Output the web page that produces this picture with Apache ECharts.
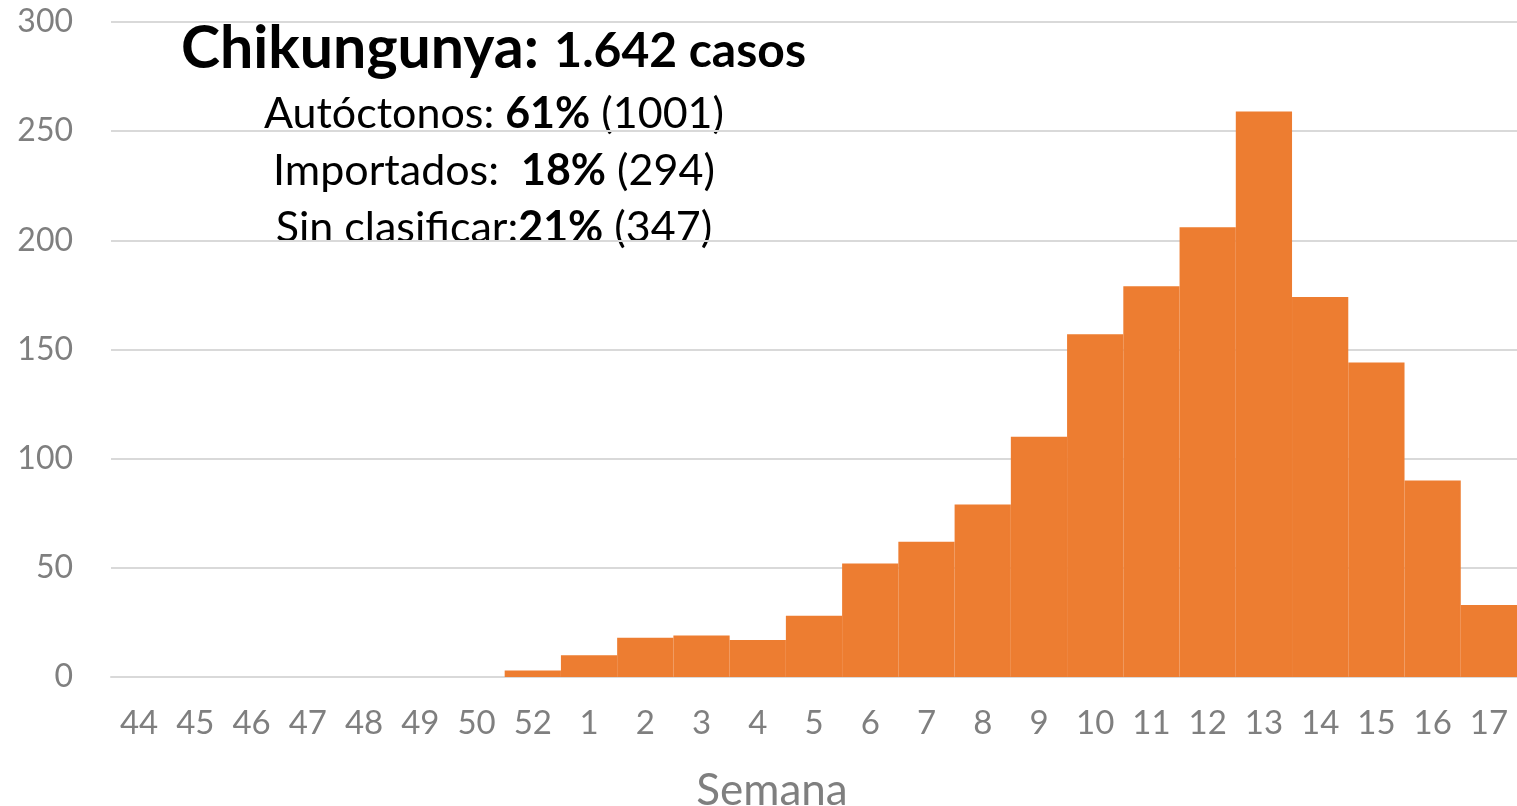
<!DOCTYPE html>
<html>
<head>
<meta charset="utf-8">
<script src="https://cdn.jsdelivr.net/npm/echarts@6/dist/echarts.min.js"></script>
<style>html,body{margin:0;padding:0;background:#fff;overflow:hidden}#c{width:1517px;height:806px}</style>
</head>
<body>
<div id="c"></div>
<script>
var weeks = ['44','45','46','47','48','49','50','52','1','2','3','4','5','6','7','8','9','10','11','12','13','14','15','16','17'];
var cases = [0,0,0,0,0,0,0,3,10,18,19,17,28,52,62,79,110,157,179,206,259,174,144,90,33];
var yTicks = [0,50,100,150,200,250,300];
var titleMain = 'Chikungunya:';
var titleTotal = '1.642 casos';
var breakdown = [
  ['Autóctonos: ', '61%', ' (1001)'],
  ['Importados:  ', '18%', ' (294)'],
  ['Sin clasificar:', '21%', ' (347)']
];

var FONT = 'Lato, "Open Sans", sans-serif';
var chart = echarts.init(document.getElementById('c'), null, {width: 1517, height: 806});
var rich = {
  a: {fontFamily: FONT, fontSize: 43, color: '#000'},
  b: {fontFamily: FONT, fontSize: 43, fontWeight: 'bold', color: '#000'}
};
var graphics = [
  {type: 'text', x: 181, y: 78,
   style: {text: titleMain, fontFamily: FONT, fontSize: 59, fontWeight: 'bold', fill: '#000', textAlign: 'left', textVerticalAlign: 'bottom', verticalAlign: 'bottom'}},
  {type: 'text', x: 806, y: 76,
   style: {text: titleTotal, fontFamily: FONT, fontSize: 48, fontWeight: 'bold', fill: '#000', textAlign: 'right', textVerticalAlign: 'bottom', verticalAlign: 'bottom'}}
];
var ys = [114, 171, 228];
breakdown.forEach(function (b, i) {
  graphics.push({
    type: 'text', x: 494, y: ys[i],
    style: {text: '{a|' + b[0] + '}{b|' + b[1] + '}{a|' + b[2] + '}', rich: rich,
            textAlign: 'center', align: 'center', textVerticalAlign: 'middle', verticalAlign: 'middle'}
  });
});

var barData = cases.map(function (v) {
  return v === 0 ? {value: v, itemStyle: {borderWidth: 0}} : v;
});

chart.setOption({
  animation: false,
  grid: {left: 111, right: 0, top: 22, height: 655, containLabel: false, outerBoundsMode: 'none'},
  xAxis: {
    type: 'category', data: weeks,
    name: 'Semana', nameLocation: 'middle', nameGap: 92,
    nameTextStyle: {fontFamily: FONT, fontSize: 44, color: '#7f7f7f', padding: [0, 84, 0, 0]},
    axisLine: {lineStyle: {color: '#d9d9d9', width: 2}},
    axisTick: {show: false},
    axisLabel: {interval: 0, margin: 30, fontFamily: FONT, fontSize: 33, color: '#7f7f7f'}
  },
  yAxis: {
    type: 'value', min: yTicks[0], max: yTicks[yTicks.length - 1], interval: yTicks[1] - yTicks[0],
    axisLine: {show: false}, axisTick: {show: false},
    axisLabel: {margin: 38, fontFamily: FONT, fontSize: 32, color: '#7f7f7f'},
    splitLine: {lineStyle: {color: '#d9d9d9', width: 2}}
  },
  series: [{
    type: 'bar', data: barData, barCategoryGap: '0%',
    itemStyle: {color: '#ED7D31', borderColor: '#ED7D31', borderWidth: 2}
  }],
  graphic: graphics
});
</script>
</body>
</html>
